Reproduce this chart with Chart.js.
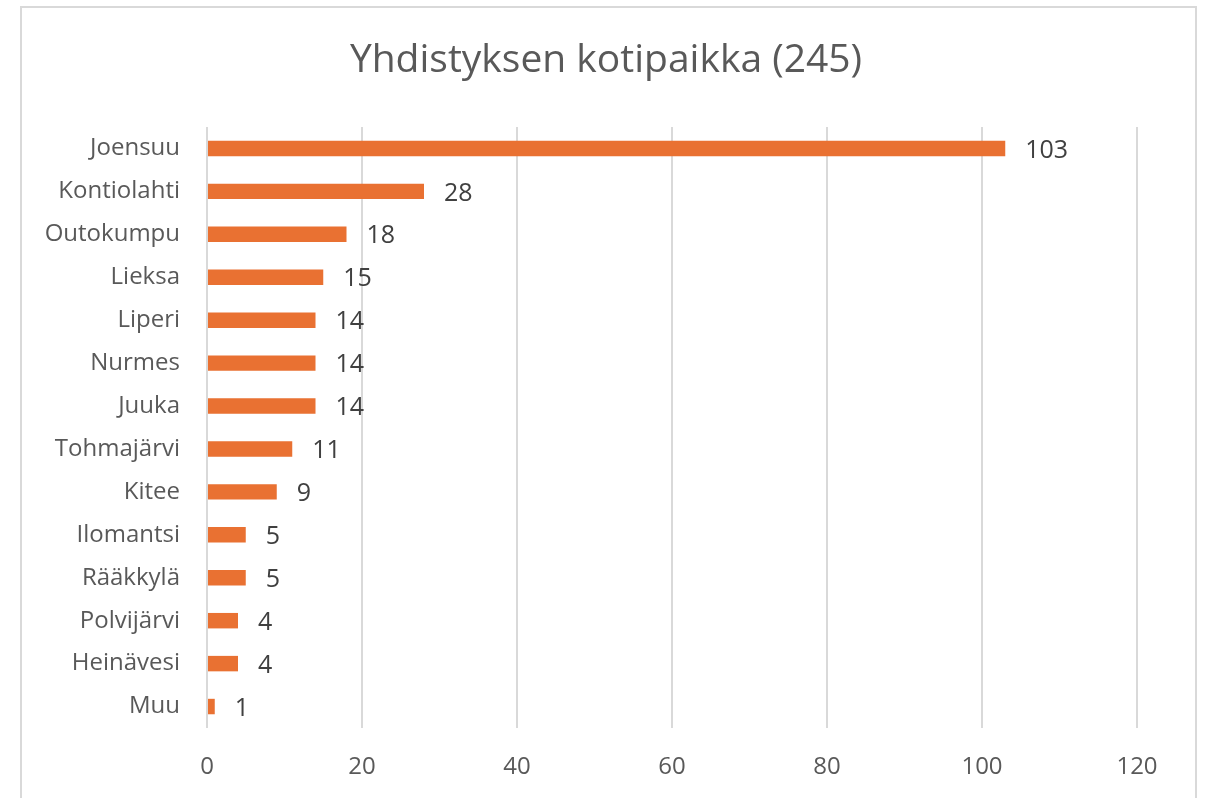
<!DOCTYPE html>
<html>
<head>
<meta charset="utf-8">
<script src="https://cdn.jsdelivr.net/npm/chart.js@4/dist/chart.umd.min.js"></script>
<style>
html,body{margin:0;padding:0;background:#fff;}
#wrap{width:1208px;height:798px;position:relative;}
</style>
</head>
<body>
<div id="wrap"><canvas id="c" width="1208" height="798"></canvas></div>
<script>
const titleText = "Yhdistyksen kotipaikka (245)";
const categories = ["Joensuu","Kontiolahti","Outokumpu","Lieksa","Liperi","Nurmes","Juuka","Tohmajärvi","Kitee","Ilomantsi","Rääkkylä","Polvijärvi","Heinävesi","Muu"];
const counts = [103,28,18,15,14,14,14,11,9,5,5,4,4,1];
const xMin = 0, xMax = 120, xStep = 20;

const FONT = "'Open Sans', 'Liberation Sans', sans-serif";

const decor = {
  id: 'decor',
  beforeDraw(chart) {
    const ctx = chart.ctx;
    ctx.save();
    ctx.fillStyle = '#fff';
    ctx.fillRect(0, 0, chart.width, chart.height);
    ctx.strokeStyle = '#D9D9D9';
    ctx.lineWidth = 2;
    ctx.strokeRect(21, 7, 1175, 900);
    ctx.fillStyle = '#595959';
    ctx.font = "39px " + FONT;
    ctx.textAlign = 'center';
    ctx.textBaseline = 'middle';
    ctx.fillText(titleText, 606, 61);
    ctx.restore();
  },
  afterDatasetsDraw(chart) {
    const ctx = chart.ctx;
    const meta = chart.getDatasetMeta(0);
    ctx.save();
    ctx.fillStyle = '#404040';
    ctx.font = "25px " + FONT;
    ctx.textAlign = 'left';
    ctx.textBaseline = 'middle';
    meta.data.forEach((bar, i) => {
      ctx.fillText(String(chart.data.datasets[0].data[i]), bar.x + 20, bar.y + 2);
    });
    ctx.restore();
  }
};

new Chart(document.getElementById('c'), {
  type: 'bar',
  data: {
    labels: categories,
    datasets: [{
      data: counts,
      backgroundColor: '#E97132',
      borderWidth: 0,
      barPercentage: 0.72,
      categoryPercentage: 0.5
    }]
  },
  options: {
    indexAxis: 'y',
    responsive: false,
    animation: false,
    devicePixelRatio: 1,
    layout: { padding: { left: 20, top: 127, right: 71, bottom: 0 } },
    plugins: { legend: { display: false }, title: { display: false }, tooltip: { enabled: false } },
    scales: {
      x: {
        min: xMin, max: xMax,
        ticks: { stepSize: xStep, color: '#595959', font: { family: FONT, size: 24 }, padding: 25 },
        grid: { color: '#D9D9D9', lineWidth: 2, drawTicks: false },
        border: { display: false },
        afterFit(scale) { scale.height = 70; }
      },
      y: {
        ticks: { color: '#595959', font: { family: FONT, size: 24 }, padding: 27 },
        grid: { display: false, drawTicks: false },
        border: { display: false },
        afterFit(scale) { scale.width = 187; }
      }
    }
  },
  plugins: [decor]
});
</script>
</body>
</html>
